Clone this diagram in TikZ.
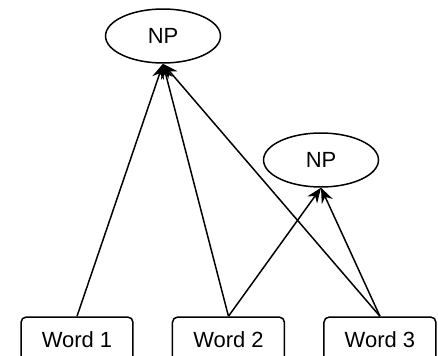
\documentclass[tikz,border=0pt]{standalone}
\usepackage{fontspec}
\setmainfont{Liberation Sans}
\usepackage{tikz}
\usetikzlibrary{shapes.geometric, arrows.meta, positioning}

\begin{document}
\begin{tikzpicture}[x=0.02cm, y=-0.02cm, node distance=0.74cm,
  phrase/.style={ellipse, draw, line width=0.85pt, minimum width=2.3cm, minimum height=1.08cm, inner sep=0pt, font=\fontsize{12.5}{15}\selectfont},
  word/.style={rectangle, draw, line width=0.85pt, rounded corners=3pt, minimum width=2.24cm, minimum height=0.9cm, inner sep=0pt, font=\fontsize{12.5}{15}\selectfont},
  arr/.style={-{Stealth[length=0.3cm, width=0.24cm]}, line width=0.85pt}
]
\useasboundingbox (0,0) rectangle (438,355);
\node[word] (w1) at (77,339.5) {Word 1};
\node[word, right=0.76cm of w1] (w2) {Word 2};
\node[word, right=0.76cm of w2] (w3) {Word 3};
\node[phrase] (np1) at (163,36) {NP};
\node[phrase] (np2) at (321,160) {NP};
\draw[arr] (w1.north) -- (np1.south);
\draw[arr] (w2.north) -- (np1.south);
\draw[arr] (w3.north) -- (np1.south);
\draw[arr] (w2.north) -- (np2.south);
\draw[arr] (w3.north) -- (np2.south);
\end{tikzpicture}
\end{document}
